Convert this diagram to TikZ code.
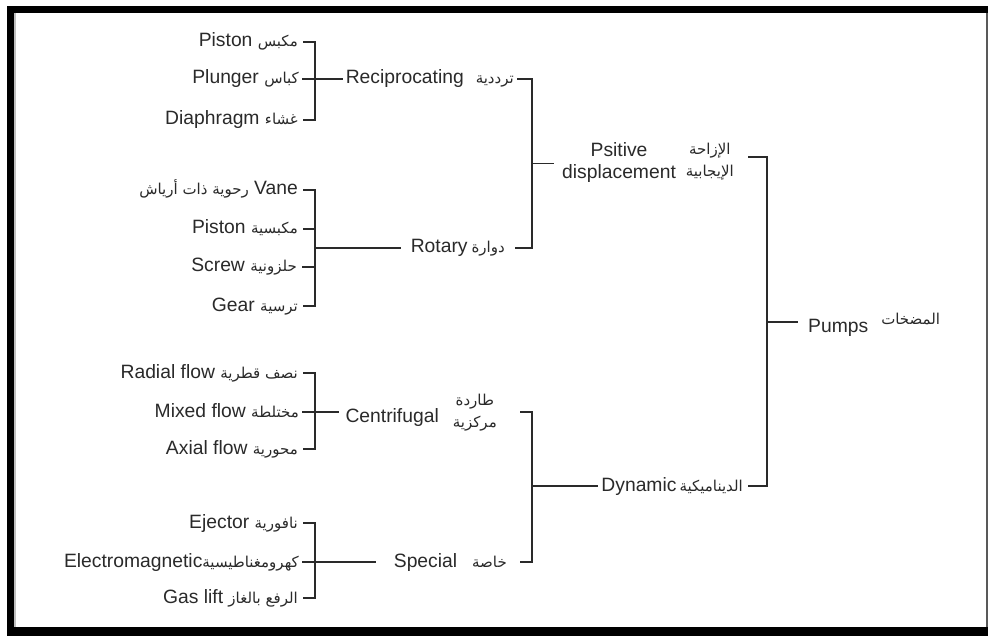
\documentclass[tikz,border=0pt]{standalone}
\usepackage{fontspec}
\usetikzlibrary{calc}
\setmainfont{Liberation Sans}
\newfontfamily\arabicfont[Script=Arabic]{DejaVu Sans}
\TeXXeTstate=1
\definecolor{ink}{HTML}{2A2A2A}
% one Arabic word or phrase, right to left
\newcommand\ar[1]{{\arabicfont\fontsize{15bp}{18bp}\selectfont\beginR #1\endR}}
% two stacked Arabic lines
\newcommand\artwo[2]{{\arabicfont\fontsize{15bp}{22bp}\selectfont
  \begin{tabular}[c]{@{}c@{}}\beginR #1\endR\\\beginR #2\endR\end{tabular}}}
\tikzset{
  lbl/.style={text=ink, inner ysep=0pt, inner xsep=3bp,
    font=\fontsize{19.3bp}{22bp}\selectfont},
  oneline/.style={lbl, text height=12bp, text depth=2bp},
  leaf/.style={oneline, anchor=east, inner xsep=5bp},
  conn/.style={draw=ink, line width=1.1bp},
}
\begin{document}
\begin{tikzpicture}[x=1bp, y=-1bp]
  \useasboundingbox (0,0) rectangle (988,636);
  \fill[white] (0,0) rectangle (988,636);
  % frame
  \fill[black] (7,6) rectangle (988,13);
  \fill[black] (7,6) rectangle (14,636);
  \fill[black] (7,627) rectangle (988,636);
  \fill[black!65] (986,13) rectangle (988,627);
  \draw[black!25, line width=1.2bp] (15,13) -- (15,627);

  % spine positions
  \coordinate (s1) at (315,0);
  \coordinate (s2) at (532,0);
  \coordinate (s3) at (767,0);

  % reciprocating group
  \node[leaf] (p1) at (303,42)  {Piston \ar{مكبس}};
  \node[leaf, inner xsep=3bp] (p2) at (302,79)  {Plunger \ar{كباس}};
  \node[leaf] (p3) at (303,120) {Diaphragm \ar{غشاء}};
  \node[oneline, anchor=east] (recip) at (517,79)
    {Reciprocating\hspace{12bp}\ar{ترددية}};

  % rotary group
  \node[leaf] (v1) at (303,190) {\ar{رحوية ذات أرياش} Vane};
  \node[leaf] (v2) at (303,229) {Piston \ar{مكبسية}};
  \node[leaf] (v3) at (302,267) {Screw \ar{حلزونية}};
  \node[leaf] (v4) at (303,306) {Gear \ar{ترسية}};
  \node[oneline, anchor=east, inner xsep=10bp] (rot) at (515,248)
    {Rotary\hspace{4bp}\ar{دوارة}};

  % centrifugal group
  \node[leaf] (r1) at (303,373) {Radial flow \ar{نصف قطرية}};
  \node[leaf, inner xsep=3bp] (r2) at (302,412) {Mixed flow \ar{مختلطة}};
  \node[leaf] (r3) at (303,449) {Axial flow \ar{محورية}};
  \node[lbl, anchor=east, inner xsep=6bp] (cf) at (520,412)
    {\raisebox{-7bp}{Centrifugal}\hspace{14bp}\artwo{طاردة}{مركزية}\kern17bp};

  % special group
  \node[leaf] (e1) at (303,523) {Ejector \ar{نافورية}};
  \node[leaf, inner xsep=3bp] (e2) at (302,562) {Electromagnetic\ar{كهرومغناطيسية}};
  \node[leaf] (e3) at (303,598) {Gas lift \ar{الرفع بالغاز}};
  \node[oneline, anchor=east, inner xsep=13bp] (sp) at (520,562)
    {\kern5bp Special\hspace{15bp}\ar{خاصة}};

  % second level (zero-size text box: the anchor line is the baseline)
  \node[lbl, anchor=east, inner xsep=8bp, text height=0pt, text depth=0pt] (pd) at (748,157)
    {\raisebox{-11.4bp}[0pt][0pt]{\begin{tabular}[c]{@{}c@{}}Psitive\\displacement\end{tabular}}\hspace{10bp}%
     \raisebox{-7.5bp}[0pt][0pt]{\artwo{الإزاحة}{الإيجابية}}\kern6bp};
  \node[oneline, anchor=east, inner xsep=3bp] (dyn) at (748,486)
    {Dynamic\hspace{3bp}\ar{الديناميكية}\kern2bp};

  % root
  \node[oneline, anchor=west, inner xsep=10bp] (pumps) at (798,322)
    {\raisebox{-5bp}{Pumps}\hspace{13bp}\raisebox{3bp}{\ar{المضخات}}};

  % brackets of the first level
  \draw[conn] (p1.east) -- (p1.east -| s1) |- (p3.east);
  \draw[conn] (p2.east) -- (recip.west);

  \draw[conn] (v1.east) -- (v1.east -| s1) |- (v4.east);
  \draw[conn] (v2.east) -- (v2.east -| s1);
  \draw[conn] (v3.east) -- (v3.east -| s1);
  \draw[conn] (rot.west -| s1) -- (rot.west);

  \draw[conn] (r1.east) -- (r1.east -| s1) |- (r3.east);
  \draw[conn] (r2.east) -- (cf.west);

  \draw[conn] (e1.east) -- (e1.east -| s1) |- (e3.east);
  \draw[conn] (e2.east) -- (sp.west);

  % brackets of the second level
  \draw[conn] (recip.east) -- (recip.east -| s2) |- (rot.east);
  \coordinate (pdin) at ($(recip.east -| s2)!.5!(rot.east -| s2)$);
  \draw[conn] (pdin) -- (pdin -| pd.west);
  \draw[conn] (cf.east) -- (cf.east -| s2) |- (sp.east);
  \draw[conn] (dyn.west -| s2) -- (dyn.west);

  % root bracket
  \draw[conn] (pd.east) -- (pd.east -| s3) |- (dyn.east);
  \draw[conn] (pumps.west -| s3) -- (pumps.west);
\end{tikzpicture}
\end{document}
